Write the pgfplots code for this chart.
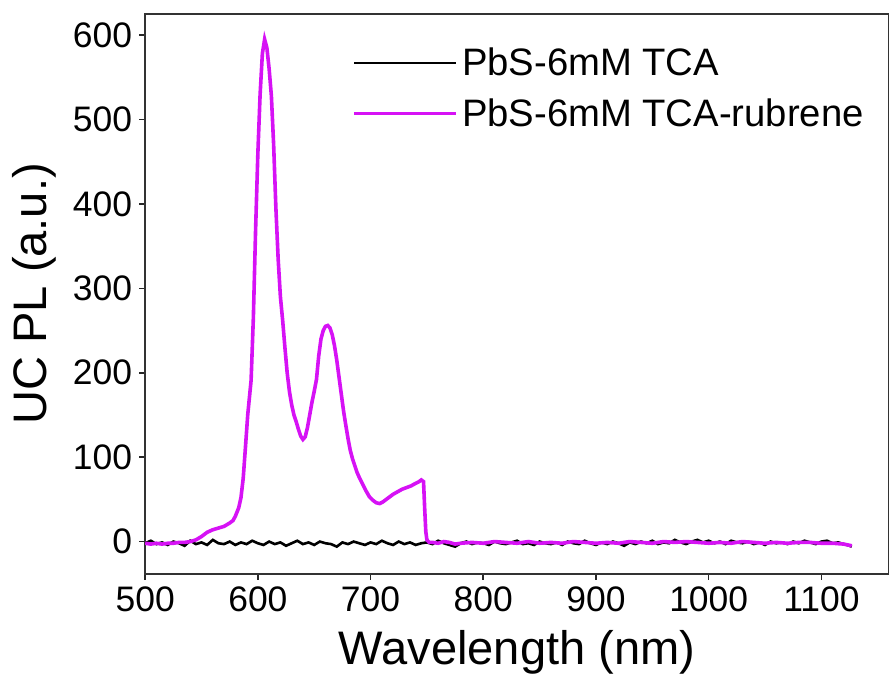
\documentclass[border=0pt]{standalone}
\usepackage{pgfplots}
\pgfplotsset{compat=1.18}
\usepackage{fontspec}
\setmainfont{Liberation Sans}
\definecolor{mag}{RGB}{214,18,245}
\begin{document}
\begin{tikzpicture}
\begin{axis}[
  width=371.5pt, height=279.5pt, scale only axis,
  at={(0,0)}, anchor=south west,
  xmin=500, xmax=1160, ymin=-38, ymax=625,
  xtick={500,600,...,1100}, ytick={0,100,...,600},
  xtick pos=lower, ytick pos=left,
  tick align=outside, major tick length=3pt,
  tick style={line width=0.8pt, black!85},
  axis line style={line width=1pt, black!80},
  /pgf/number format/assume math mode=true,
  /pgf/number format/1000 sep={},
  ticklabel style={font=\fontsize{17.7}{17.7}\selectfont},
  xlabel={Wavelength (nm)},
  ylabel={UC PL (a.u.)},
  xlabel style={font=\fontsize{23.5}{23.5}\selectfont, at={(axis description cs:0.5,0)}, anchor=base, yshift=-45.5pt},
  ylabel style={font=\fontsize{23.5}{23.5}\selectfont, at={(axis description cs:-0.132,0.5)}, anchor=base},
  legend style={draw=none, fill=none, at={(axis description cs:0.98,0.955)}, anchor=north east,
    font=\fontsize{19.1}{22}\selectfont, row sep=6pt},
  legend cell align=left,
  legend image code/.code={\draw[#1] (0pt,0pt) -- (38.5pt,0pt); \path (0pt,0pt) -- (51pt,0pt);},
]
\addplot[black, line width=1.3pt] coordinates {
(500,-2)(505,1)(510,-3)(515,-1)(520,-4)(525,0)(530,-2)(535,-5)(540,1)(545,-3)
(550,-1)(555,-4)(560,2)(565,-2)(570,-3)(575,0)(580,-4)(585,-1)(590,-3)(595,1)
(600,-2)(605,-4)(610,0)(615,-3)(620,-1)(625,-5)(630,-2)(635,1)(640,-3)(645,-1)
(650,-4)(655,0)(660,-2)(665,-3)(670,-6)(675,-1)(680,-3)(685,0)(690,-2)(695,-4)
(700,-1)(705,-3)(710,1)(715,-2)(720,-4)(725,0)(730,-3)(735,-1)(740,-4)(745,-2)
(750,-1)(755,-3)(760,1)(765,-2)(770,-4)(775,-6)(780,-2)(785,0)(790,-3)(795,-1)
(800,-2)(805,-4)(810,0)(815,-2)(820,-3)(825,-1)(830,1)(835,-3)(840,-2)(845,-4)
(850,0)(855,-2)(860,-3)(865,-1)(870,-4)(875,0)(880,-2)(885,-3)(890,1)(895,-2)
(900,-4)(905,-1)(910,-3)(915,0)(920,-2)(925,-5)(930,-1)(935,-3)(940,0)(945,-2)
(950,1)(955,-3)(960,-1)(965,-2)(970,2)(975,-1)(980,-3)(985,0)(990,2)(995,-1)
(1000,1)(1005,-2)(1010,0)(1015,-3)(1020,1)(1025,-1)(1030,-2)(1035,0)(1040,-3)(1045,-1)
(1050,-4)(1055,0)(1060,-2)(1065,-1)(1070,-3)(1075,0)(1080,-2)(1085,1)(1090,-1)(1095,-3)
(1100,0)(1105,1)(1110,-2)(1115,-1)(1120,-3)(1125,-5)(1127,-6)
};
\addlegendentry{PbS-6mM TCA}
\addplot[mag, line width=1.8pt] coordinates {
(500,-2)(505,-3)(510,-2)(515,-3)(520,-2)(525,-2)(530,-1)(535,-1)(540,0)(545,2)
(550,6)(555,11)(560,14)(565,16)(570,18)(575,22)(578,25)(580,30)(583,40)(585,52)
(587,75)(589,112)(591,150)(594,191)(596,265)(598,370)(600,460)(602,530)(604,578)(606,595)
(608,585)(610,560)(612,528)(614,470)(616,395)(618,335)(620,290)(622,262)(624,230)(626,200)
(628,178)(630,162)(632,150)(634,142)(636,133)(638,125)(640,121)(642,124)(644,135)(646,150)
(648,165)(650,178)(652,192)(654,220)(656,240)(658,250)(660,255)(662,256)(664,253)(666,245)
(668,232)(670,215)(672,195)(674,175)(676,155)(678,138)(680,122)(682,108)(684,98)(686,90)
(688,82)(690,76)(693,68)(696,60)(699,53)(702,49)(705,46)(708,45)(711,47)(714,50)
(717,53)(720,56)(724,59)(728,62)(732,64)(736,66)(740,69)(743,71)(745,73)(747,71)
(748,40)(749,12)(750,2)(752,-1)(755,-1)(760,-2)(765,0)(770,-1)(775,-3)(780,-2)
(790,-1)(800,-2)(810,0)(820,-1)(830,-2)(840,0)(850,-2)(860,-1)(870,-2)(880,0)
(890,-1)(900,-2)(910,-1)(920,-2)(930,0)(940,-1)(950,-2)(960,0)(970,-1)(980,0)
(990,-1)(1000,-2)(1010,-1)(1020,-2)(1030,0)(1040,-1)(1050,-2)(1060,-1)(1070,-2)(1080,-1)
(1090,-1)(1100,-2)(1110,-2)(1120,-3)(1127,-5)
};
\addlegendentry{PbS-6mM TCA-rubrene}
\end{axis}
\pgfresetboundingbox
\path (-72.5pt,-58pt) rectangle (371.5pt,286.5pt);
\end{tikzpicture}
\end{document}
